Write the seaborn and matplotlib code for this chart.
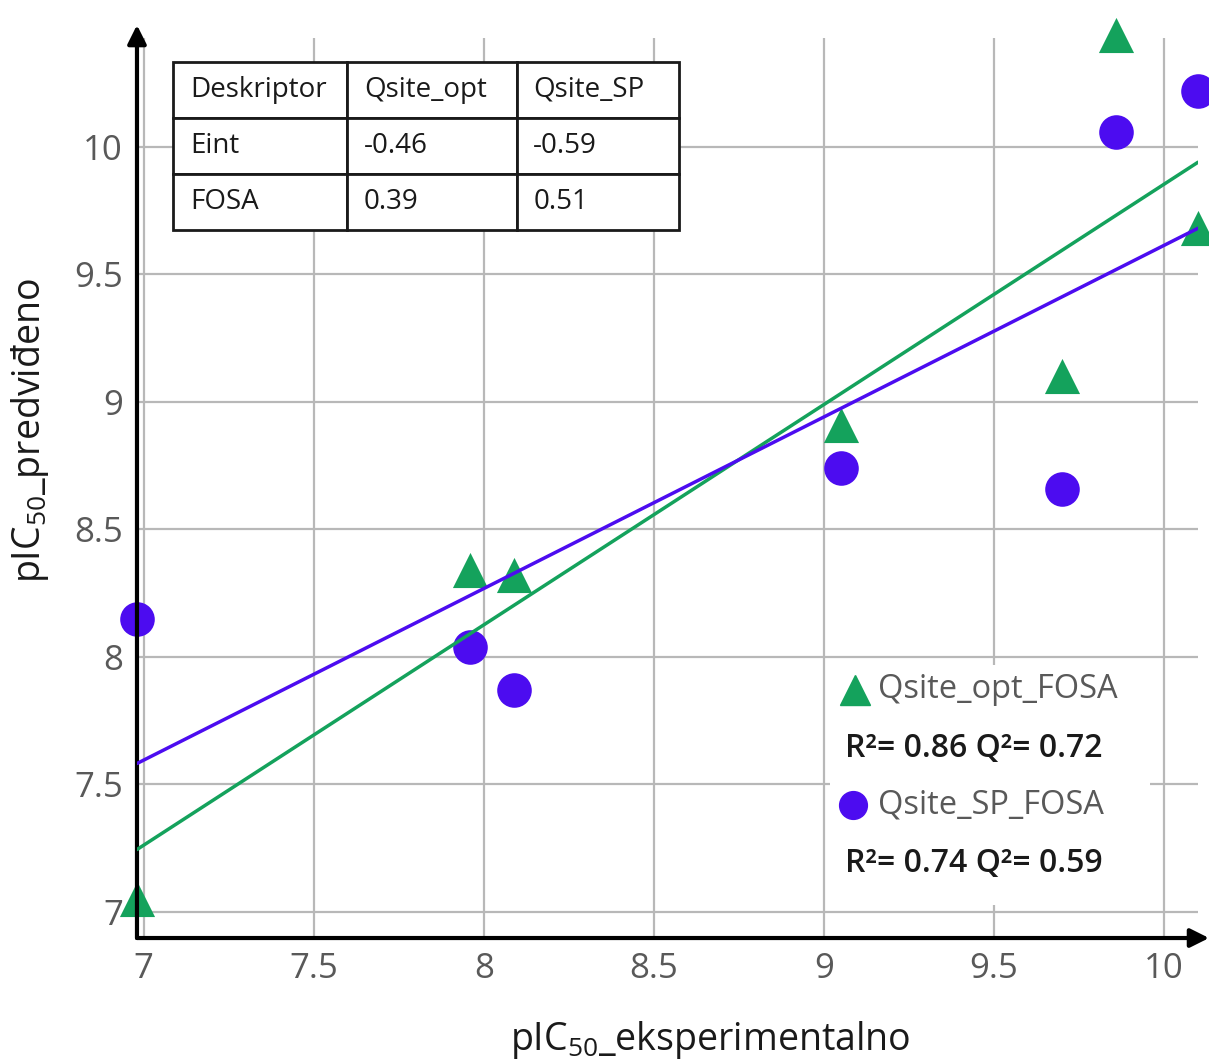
import matplotlib
matplotlib.use("Agg")
import pandas as pd
import matplotlib.pyplot as plt
import seaborn as sns
from matplotlib.patches import Rectangle

exp_pic50 = [6.98, 7.96, 8.09, 9.05, 9.70, 9.86, 10.10]
pred_opt = [7.05, 8.34, 8.32, 8.91, 9.10, 10.44, 9.68]
pred_sp = [8.15, 8.04, 7.87, 8.74, 8.66, 10.06, 10.22]
series_names = ['Qsite_opt_FOSA', 'Qsite_SP_FOSA']
series_stats = ['R²= 0.86 Q²= 0.72', 'R²= 0.74 Q²= 0.59']

table_cols = ['Deskriptor', 'Qsite_opt', 'Qsite_SP']
table_rows = [['Eint', '-0.46', '-0.59'],
              ['FOSA', '0.39', '0.51']]

ticks = [7, 7.5, 8, 8.5, 9, 9.5, 10]
tick_labels = ['7', '7.5', '8', '8.5', '9', '9.5', '10']

green = '#14a25c'
blue = '#4c0cf0'

sns.set_style('white')
plt.rcParams['font.family'] = ['Open Sans', 'DejaVu Sans']
plt.rcParams['mathtext.default'] = 'regular'

df = pd.DataFrame({'exp': exp_pic50, 'opt': pred_opt, 'sp': pred_sp})

fig = plt.figure(figsize=(12.09, 10.64), dpi=100)
ax = fig.add_axes([0.1133, 0.1184, 0.8776, 0.8459])
ax.set_xlim(6.98, 10.10)
ax.set_ylim(6.898, 10.427)

sns.regplot(x='exp', y='opt', data=df, ax=ax, ci=None, truncate=False, marker='^', color=green,
            scatter_kws={'s': 640, 'alpha': 1, 'zorder': 3, 'clip_on': False, 'linewidths': 0},
            line_kws={'lw': 2.5, 'zorder': 4})
sns.regplot(x='exp', y='sp', data=df, ax=ax, ci=None, truncate=False, marker='o', color=blue,
            scatter_kws={'s': 620, 'alpha': 1, 'zorder': 3, 'clip_on': False, 'linewidths': 0},
            line_kws={'lw': 2.5, 'zorder': 4})

ax.set_xlim(6.98, 10.10)
ax.set_ylim(6.898, 10.427)
ax.set_xticks(ticks)
ax.set_xticklabels(tick_labels)
ax.set_yticks(ticks)
ax.set_yticklabels(tick_labels)
ax.grid(True, color='#b8b8b8', lw=1.6)
ax.set_axisbelow(True)
ax.tick_params(labelsize=25, labelcolor='#595959', length=0, pad=10)

for s in ax.spines.values():
    s.set_visible(False)
arrow = dict(arrowstyle='-|>', lw=3, color='black', mutation_scale=28, shrinkA=0, shrinkB=0)
ax.annotate('', xy=(1.0104, 0), xytext=(0, 0), xycoords='axes fraction', arrowprops=arrow)
ax.annotate('', xy=(0, 1.0144), xytext=(0, 0), xycoords='axes fraction', arrowprops=arrow)

ax.set_xlabel(r'pIC$_{50}$_eksperimentalno', fontsize=27, color='#1a1a1a', va='center')
ax.set_ylabel(r'pIC$_{50}$_predviđeno', fontsize=27, color='#1a1a1a', va='center')
ax.xaxis.set_label_coords(0.54, -0.113)
ax.yaxis.set_label_coords(-0.101, 0.564)

# table with correlation coefficients
tbl = ax.table(cellText=table_rows, colLabels=table_cols, cellLoc='left', colLoc='left',
               colWidths=[0.344, 0.336, 0.320], bbox=[0.0339, 0.7867, 0.4769, 0.1867])
tbl.auto_set_font_size(False)
tbl.set_fontsize(20)
tbl.set_zorder(6)
for cell in tbl.get_celld().values():
    cell.set_edgecolor('#1a1a1a')
    cell.set_linewidth(2)
    cell.set_facecolor('white')
    cell.get_text().set_color('#1a1a1a')

# legend box
ax.add_patch(Rectangle((0.653, 0.0367), 0.302, 0.267, transform=ax.transAxes,
                       facecolor='white', edgecolor='none', zorder=5))
ax.plot(0.6767, 0.2756, marker='^', ms=21, color=green, transform=ax.transAxes, zorder=6, clip_on=False)
ax.plot(0.6748, 0.1478, marker='o', ms=20, color=blue, transform=ax.transAxes, zorder=6, clip_on=False)
for name, stat, y in zip(series_names, series_stats, [0.2756, 0.1478]):
    ax.text(0.6984, y, name, transform=ax.transAxes, fontsize=23.5, color='#595959',
            va='center', ha='left', zorder=7)
    ax.text(0.6673, y - 0.0645, stat, transform=ax.transAxes, fontsize=23, color='#1a1a1a',
            weight='semibold', va='center', ha='left', zorder=7)

fig.savefig('out.png', dpi=100)
